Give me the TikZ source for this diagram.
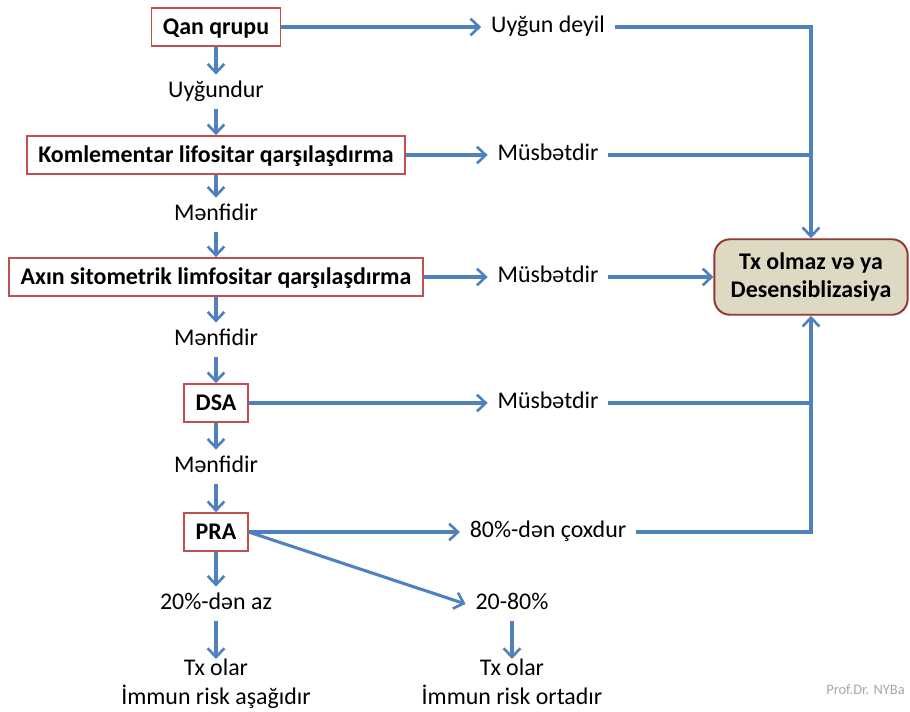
\documentclass[tikz,border=0pt]{standalone}
\usepackage{fontspec}
\setmainfont{Carlito}
\usetikzlibrary{arrows.meta,positioning}

\definecolor{flowblue}{HTML}{4F81BD}
\definecolor{testred}{HTML}{C0504D}
\definecolor{endfill}{HTML}{DDD9C3}
\definecolor{endline}{HTML}{943634}
\definecolor{markgray}{HTML}{A6A6A6}

\newcommand{\flowsize}{\fontsize{13.6}{16.4}\selectfont}

\tikzset{
  testbox/.style={draw=testred, line width=1.1pt, fill=white, font=\flowsize\bfseries,
    minimum height=21.5pt, inner xsep=6.5pt, text height=9pt, text depth=0pt},
  answer/.style={inner xsep=5.5pt, inner ysep=6.5pt, text height=0.64em, text depth=0pt},
  outcome/.style={align=center, inner sep=0pt},
  endbox/.style={draw=endline, line width=1.1pt, fill=endfill, rounded corners=9pt,
    font=\flowsize\bfseries, align=center, minimum width=110pt, minimum height=43pt},
  flow/.style={-{Straight Barb[length=5pt,width=9.5pt,line width=1.5pt]},
    draw=flowblue, line width=1.75pt},
  bus/.style={draw=flowblue, line width=1.75pt},
}

\begin{document}
\begin{tikzpicture}[x=0.02cm, y=-0.02cm, font=\flowsize]
\useasboundingbox (0,0) rectangle (910,711);

% ---- left column: the tests ----
\node[testbox] (qan) at (216,27) {Qan qrupu};
\node[answer]  (uygun) at (216,92) {Uyğundur};
\node[testbox] (komp) at (216,155) {Komlementar lifositar qarşılaşdırma};
\node[answer]  (menfi1) at (216,215) {Mənfidir};
\node[testbox] (axin) at (216,277) {Axın sitometrik limfositar qarşılaşdırma};
\node[answer]  (menfi2) at (216,340) {Mənfidir};
\node[testbox] (dsa) at (216,403) {DSA};
\node[answer]  (menfi3) at (216,467) {Mənfidir};
\node[testbox] (pra) at (216,532) {PRA};
\node[answer]  (az) at (216,604) {20\%-dən az};
\node[outcome, anchor=north] (txlow) at (216,659) {Tx olar\\İmmun risk aşağıdır};

% ---- middle column: positive results ----
\node[answer] (deyil) at (548,27) {Uyğun deyil};
\node[answer] (musb1) at (548,155) {Müsbətdir};
\node[answer] (musb2) at (548,277) {Müsbətdir};
\node[answer] (musb3) at (548,403) {Müsbətdir};
\node[answer] (cox) at (548,532) {80\%-dən çoxdur};
\node[answer] (orta) at (512,604) {20-80\%};
\node[outcome, anchor=north] (txmid) at (512,659) {Tx olar\\İmmun risk ortadır};

% ---- end box ----
\node[endbox] (olmaz) at (811,277) {Tx olmaz və ya\\Desensiblizasiya};

% down the column
\draw[flow] (qan) -- (uygun);
\draw[flow] (uygun) -- (komp);
\draw[flow] (komp) -- (menfi1);
\draw[flow] (menfi1) -- (axin);
\draw[flow] (axin) -- (menfi2);
\draw[flow] (menfi2) -- (dsa);
\draw[flow] (dsa) -- (menfi3);
\draw[flow] (menfi3) -- (pra);
\draw[flow] (pra) -- (az);
\draw[flow] (az) -- (txlow);

% across to the results
\draw[flow] (qan.east) -- (deyil.west);
\draw[flow] (komp.east) -- (musb1.west);
\draw[flow] (axin.east) -- (musb2.west);
\draw[flow] (dsa.east) -- (musb3.west);
\draw[flow] (pra.east) -- (cox.west);
\draw[flow] (pra.east) -- (orta.west);
\draw[flow] (orta) -- (txmid);

% into the end box
\draw[flow] (deyil.east) -| (olmaz.north);
\draw[bus] (musb1.east) -- (musb1.east -| olmaz.north);
\draw[flow] (musb2.east) -- (olmaz.west);
\draw[bus] (musb3.east) -- (musb3.east -| olmaz.south);
\draw[flow] (cox.east) -| (olmaz.south);

\node[anchor=west, text=markgray, font=\fontsize{8.2}{10}\selectfont, inner sep=0pt]
  (mark) at (826,690) {Prof.Dr. NYBa};
\end{tikzpicture}
\end{document}
